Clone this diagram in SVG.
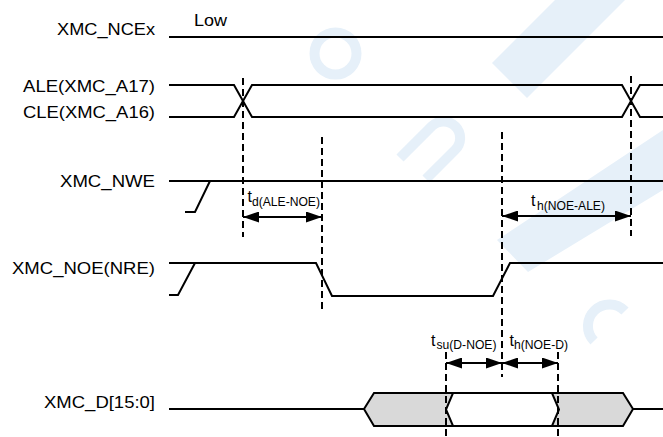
<svg xmlns="http://www.w3.org/2000/svg" width="663" height="437" viewBox="0 0 663 437">
<style>
.lbl{font-family:"Liberation Sans",Arial,sans-serif;font-size:17px;fill:#000;text-anchor:end}
.tx{font-family:"Liberation Sans",Arial,sans-serif;fill:#000}
.t{font-size:16px}
.sub{font-size:12px}
.sig{fill:none;stroke:#000;stroke-width:2}
.dash{fill:none;stroke:#000;stroke-width:2;stroke-dasharray:7 4}
.arr{fill:none;stroke:#000;stroke-width:2;marker-start:url(#ah);marker-end:url(#ah)}
.wm{fill:#e6f0f9}
.wms{fill:none;stroke:#e6f0f9;stroke-width:10}
</style>
<defs>
<marker id="ah" viewBox="0 0 16 11" refX="16" refY="5.5" markerWidth="16" markerHeight="11" markerUnits="userSpaceOnUse" orient="auto-start-reverse">
<path d="M0,0 L16,5.5 L0,11 Z" fill="#000"/>
</marker>
</defs>
<rect width="663" height="437" fill="#fff"/>
<g id="watermark">
<circle class="wms" cx="335.5" cy="53.5" r="21" stroke-width="11"/>
<path class="wms" d="M400,158 L432,126 A16.5,16.5 0 0 1 455,150 L426,179"/>
<path class="wms" d="M625,311 A21,21 0 1 0 594,341"/>
<polygon class="wm" points="555,0 625,0 527,98 492,63"/>
<polygon class="wm" points="497,240 528,272 663,190 663,130"/>
</g>
<g id="sig-ncex">
<text class="lbl" x="155" y="35" textLength="98" lengthAdjust="spacingAndGlyphs">XMC_NCEx</text>
<text class="tx" x="194" y="26" font-size="17" textLength="33" lengthAdjust="spacingAndGlyphs">Low</text>
<path class="sig" d="M169,37 H663"/>
</g>
<g id="sig-ale">
<text class="lbl" x="155" y="92" textLength="132" lengthAdjust="spacingAndGlyphs">ALE(XMC_A17)</text>
<path class="sig" d="M169,85 H234 L252,117 H622 L640,85 H663"/>
</g>
<g id="sig-cle">
<text class="lbl" x="155" y="118" textLength="132" lengthAdjust="spacingAndGlyphs">CLE(XMC_A16)</text>
<path class="sig" d="M169,117 H234 L252,85 H622 L640,117 H663"/>
</g>
<g id="sig-nwe">
<text class="lbl" x="155" y="187" textLength="95" lengthAdjust="spacingAndGlyphs">XMC_NWE</text>
<path class="sig" d="M169,181 H663 M185,212 H195 L210,181"/>
</g>
<g id="sig-noe">
<text class="lbl" x="155" y="274" textLength="143" lengthAdjust="spacingAndGlyphs">XMC_NOE(NRE)</text>
<path class="sig" d="M169,263 H316 L332,296 H493 L510,263 H663 M169,295 H178 L195,263"/>
</g>
<g id="sig-data">
<text class="lbl" x="155" y="408" textLength="111" lengthAdjust="spacingAndGlyphs">XMC_D[15:0]</text>
<path class="sig" d="M169,409 H364 M633,409 H663"/>
<polygon points="364,409 374,393 623,393 633,409 623,426 374,426" fill="#d9d9d9" stroke="#000" stroke-width="2" stroke-linejoin="miter"/>
<polygon points="453,393 552,393 559,409.5 552,426 453,426 446,409.5" fill="#fff" stroke="#000" stroke-width="2"/>
</g>
<g id="connectors">
<path class="dash" d="M243,78 V237"/>
<path class="dash" d="M322,137 V312"/>
<path class="dash" d="M502,132 V377"/>
<path class="dash" d="M631,76 V236"/>
<path class="dash" d="M446,352 V437"/>
<path class="dash" d="M558,352 V437"/>
<path class="arr" d="M243,217 H322"/>
<path class="arr" d="M502,216 H631"/>
<path class="arr" d="M446,363 H502"/>
<path class="arr" d="M502,363 H558"/>
</g>
<g id="labels">
<text class="tx t" x="247.5" y="202">t</text>
<text class="tx sub" x="252" y="206" textLength="68" lengthAdjust="spacingAndGlyphs">d(ALE-NOE)</text>
<text class="tx t" x="531" y="206">t</text>
<text class="tx sub" x="537" y="209.5" textLength="68" lengthAdjust="spacingAndGlyphs">h(NOE-ALE)</text>
<text class="tx t" x="431" y="346">t</text>
<text class="tx sub" x="436.5" y="348.5" textLength="60" lengthAdjust="spacingAndGlyphs">su(D-NOE)</text>
<text class="tx t" x="509.5" y="346">t</text>
<text class="tx sub" x="514" y="348.5" textLength="54" lengthAdjust="spacingAndGlyphs">h(NOE-D)</text>
</g>
</svg>
